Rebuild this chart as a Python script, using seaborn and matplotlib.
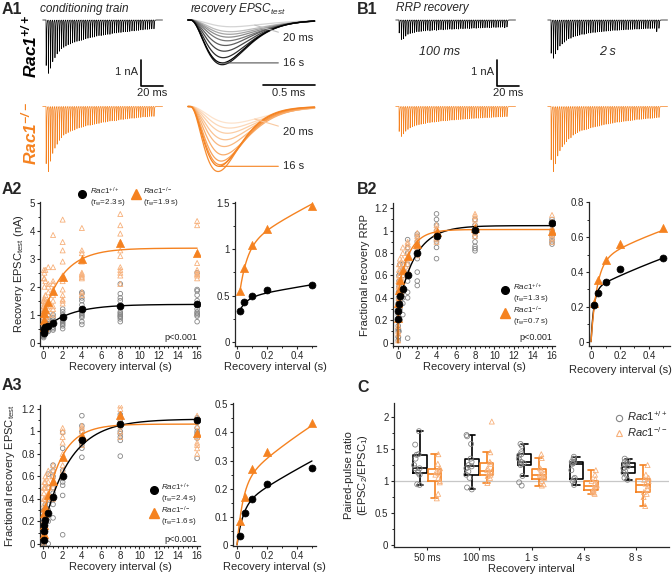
import numpy as np
import pandas as pd
import matplotlib
matplotlib.use("Agg")
import matplotlib.pyplot as plt
import seaborn as sns
from matplotlib.ticker import MultipleLocator, FuncFormatter

sns.set_style("ticks")
plt.rcParams["font.family"] = ["Liberation Sans", "DejaVu Sans"]
plt.rcParams["mathtext.fontset"] = "custom"
plt.rcParams["mathtext.rm"] = "Liberation Sans"
plt.rcParams["mathtext.it"] = "Liberation Sans:italic"
plt.rcParams["mathtext.bf"] = "Liberation Sans:bold:italic"
plt.rcParams["axes.linewidth"] = 0.9

W, H = 672, 575
BLACK = "#000000"
ORANGE = "#f58220"
PALE_OR = "#f7b07a"
GRAY = "#858585"

# ------------------------------------------------------------------
# data
# ------------------------------------------------------------------
intervals = [0.02, 0.05, 0.1, 0.2, 0.5, 1, 2, 4, 8, 16]
pp_labels = ["50 ms", "100 ms", "1 s", "4 s", "8 s"]

# A1 conditioning train, EPSC amplitude per pulse (nA)
train_wt = [1.75, 2.05, 1.85, 1.6, 1.45, 1.3, 1.2, 1.1, 1.05, 1.0, 0.95, 0.92, 0.88,
            0.85, 0.82, 0.8, 0.78, 0.75, 0.72, 0.7, 0.68, 0.66, 0.65, 0.62, 0.6,
            0.6, 0.58, 0.56, 0.55, 0.55, 0.52, 0.5, 0.5, 0.48, 0.48, 0.46, 0.45,
            0.45, 0.44, 0.42, 0.42, 0.4, 0.4, 0.38, 0.38, 0.36, 0.36, 0.35, 0.34, 0.34]
train_ko = [2.2, 2.5, 2.1, 1.8, 1.6, 1.45, 1.3, 1.2, 1.1, 1.05, 1.0, 0.95, 0.92,
            0.9, 0.85, 0.82, 0.8, 0.78, 0.75, 0.72, 0.72, 0.7, 0.68, 0.66, 0.65,
            0.62, 0.6, 0.6, 0.58, 0.56, 0.55, 0.55, 0.54, 0.52, 0.5, 0.5, 0.48,
            0.48, 0.46, 0.45, 0.45, 0.44, 0.42, 0.42, 0.4, 0.4, 0.4, 0.38, 0.38, 0.38]

# A1 recovery EPSC_test, 20 ms ... 16 s: amplitude (nA) and time to peak (ms)
epsc_wt = [0.26, 0.45, 0.55, 0.66, 0.8, 0.98, 1.2, 1.45, 1.72, 1.65]
tpk_wt = [0.40, 0.39, 0.38, 0.37, 0.36, 0.34, 0.33, 0.32, 0.31, 0.31]
epsc_ko = [0.64, 0.83, 1.03, 1.28, 1.54, 1.86, 2.1, 2.24, 2.5, 2.3]
tpk_ko = [0.40, 0.38, 0.36, 0.34, 0.33, 0.32, 0.30, 0.29, 0.27, 0.28]

# B1 RRP recovery trains (nA per pulse) after 100 ms and 2 s
rrp_wt_100 = [0.5, 0.75, 0.72, 0.62, 0.55, 0.52, 0.5, 0.48, 0.45, 0.45, 0.44, 0.42,
              0.42, 0.4, 0.42, 0.4, 0.38, 0.4, 0.38, 0.37, 0.38, 0.36, 0.36, 0.35,
              0.36, 0.35, 0.34, 0.35, 0.33, 0.34, 0.33, 0.32, 0.33, 0.32, 0.31, 0.32,
              0.3, 0.31, 0.3, 0.3, 0.29, 0.3, 0.29, 0.28, 0.29, 0.28, 0.28, 0.27, 0.3, 0.27]
rrp_wt_2s = [1.28, 1.47, 1.3, 1.15, 1.0, 0.92, 0.85, 0.78, 0.72, 0.7, 0.65, 0.62,
             0.6, 0.58, 0.55, 0.55, 0.52, 0.5, 0.5, 0.48, 0.48, 0.46, 0.45, 0.45,
             0.44, 0.43, 0.42, 0.42, 0.4, 0.4, 0.4, 0.39, 0.38, 0.38, 0.37, 0.37,
             0.36, 0.36, 0.35, 0.35, 0.35, 0.34, 0.34, 0.33, 0.33, 0.33, 0.32, 0.32, 0.45, 0.32]
rrp_ko_100 = [0.96, 1.15, 1.05, 0.95, 0.88, 0.82, 0.78, 0.75, 0.72, 0.7, 0.68, 0.66,
              0.65, 0.62, 0.62, 0.6, 0.6, 0.58, 0.58, 0.56, 0.55, 0.55, 0.54, 0.53,
              0.52, 0.52, 0.5, 0.5, 0.5, 0.49, 0.48, 0.48, 0.47, 0.46, 0.46, 0.45,
              0.45, 0.44, 0.44, 0.43, 0.43, 0.42, 0.42, 0.41, 0.41, 0.4, 0.4, 0.4, 0.39, 0.39]
rrp_ko_2s = [2.05, 2.5, 2.2, 1.9, 1.7, 1.55, 1.45, 1.35, 1.25, 1.2, 1.1, 1.05, 1.0,
             0.95, 0.92, 0.9, 0.88, 0.85, 0.82, 0.8, 0.78, 0.76, 0.75, 0.72, 0.7,
             0.68, 0.67, 0.65, 0.64, 0.62, 0.6, 0.6, 0.58, 0.57, 0.56, 0.55, 0.54,
             0.53, 0.52, 0.5, 0.5, 0.49, 0.48, 0.47, 0.46, 0.46, 0.45, 0.44, 0.43, 0.42]

# A2 recovery EPSC_test (nA)
a2_wt_mean = [0.33, 0.43, 0.49, 0.56, 0.61, 0.70, 0.92, 1.20, 1.31, 1.37]
a2_ko_mean = [0.55, 0.80, 1.05, 1.22, 1.47, 1.85, 2.33, 3.00, 3.55, 3.20]
a2_wt_pts = [
    [0.18, 0.22, 0.25, 0.27, 0.3, 0.31, 0.33, 0.36, 0.4, 0.45, 0.5],
    [0.25, 0.3, 0.35, 0.38, 0.4, 0.42, 0.45, 0.5, 0.55, 0.6],
    [0.3, 0.35, 0.42, 0.45, 0.48, 0.52, 0.58, 0.62, 0.7],
    [0.35, 0.42, 0.5, 0.5, 0.55, 0.6, 0.65, 0.75],
    [0.4, 0.45, 0.52, 0.58, 0.6, 0.68, 0.75, 0.85, 0.95],
    [0.45, 0.5, 0.55, 0.62, 0.68, 0.7, 0.8, 0.9, 1.0],
    [0.5, 0.6, 0.65, 0.7, 0.75, 0.8, 0.85, 0.9, 1.0, 1.1, 1.2],
    [0.65, 0.75, 0.9, 0.95, 1.0, 1.05, 1.1, 1.2, 1.35, 1.5, 1.6, 1.75, 1.8],
    [0.75, 0.85, 0.92, 0.95, 1.0, 1.05, 1.1, 1.25, 1.5, 1.6, 1.75, 2.1],
    [0.75, 0.95, 1.0, 1.05, 1.1, 1.2, 1.35, 1.4, 1.5, 1.7, 1.85, 1.9, 2.5],
]
a2_ko_pts = [
    [0.4, 0.55, 0.6, 0.7, 0.8, 0.9, 1.0, 1.1, 1.3, 1.5],
    [0.5, 0.7, 0.8, 0.9, 1.1, 1.2, 1.3, 1.5, 2.3, 2.6],
    [0.6, 0.8, 1.0, 1.1, 1.2, 1.4, 1.6, 2.0, 2.3, 2.5],
    [0.7, 0.9, 1.0, 1.1, 1.3, 1.5, 1.7, 2.2, 2.6],
    [0.8, 1.0, 1.2, 1.3, 1.5, 1.8, 2.0, 2.1, 2.7],
    [1.0, 1.2, 1.3, 1.5, 1.7, 1.9, 2.1, 2.2, 2.7, 3.85],
    [1.4, 1.5, 1.55, 1.7, 1.9, 2.2, 2.4, 2.9, 3.3, 3.6, 4.4],
    [1.7, 1.8, 2.3, 2.35, 2.4, 2.45, 2.5, 2.9, 3.2, 3.3, 4.1],
    [2.1, 2.4, 2.5, 2.6, 2.7, 3.1, 3.3, 3.6, 3.9, 4.2, 4.6],
    [2.3, 2.4, 2.45, 2.5, 2.6, 2.85, 3.2, 4.2, 4.35],
]

# B2 fractional recovery RRP
b2_wt_mean = [0.21, 0.28, 0.345, 0.415, 0.48, 0.60, 0.80, 0.955, 1.01, 1.065]
b2_ko_mean = [0.22, 0.355, 0.47, 0.56, 0.65, 0.77, 0.88, 0.99, 1.02, 1.0]
b2_wt_pts = [
    [0.02, 0.05, 0.1, 0.12, 0.15, 0.2, 0.25, 0.3, 0.35],
    [0.05, 0.12, 0.2, 0.28, 0.3, 0.35, 0.4, 0.45],
    [0.1, 0.2, 0.3, 0.35, 0.38, 0.45, 0.5, 0.55, 0.6],
    [0.2, 0.3, 0.38, 0.45, 0.5, 0.55, 0.62, 0.7],
    [0.25, 0.35, 0.4, 0.45, 0.5, 0.6, 0.65, 0.7],
    [0.04, 0.4, 0.45, 0.55, 0.6, 0.62, 0.7, 0.8, 0.85, 0.92],
    [0.51, 0.55, 0.63, 0.75, 0.8, 0.85, 0.9, 0.95, 0.97],
    [0.75, 0.85, 0.9, 0.92, 0.95, 1.0, 1.05, 1.1, 1.15],
    [0.82, 0.84, 0.86, 0.9, 0.95, 0.98, 1.0, 1.05, 1.1],
    [0.88, 0.9, 0.92, 0.95, 0.97, 1.0, 1.05, 1.08, 1.1],
]
b2_ko_pts = [
    [0.02, 0.08, 0.1, 0.15, 0.22, 0.28, 0.35],
    [0.2, 0.3, 0.35, 0.4, 0.45, 0.5, 0.55],
    [0.3, 0.4, 0.45, 0.5, 0.55, 0.6, 0.65, 0.7],
    [0.45, 0.5, 0.55, 0.6, 0.65, 0.7, 0.75],
    [0.55, 0.6, 0.65, 0.7, 0.75, 0.8, 0.85],
    [0.65, 0.7, 0.75, 0.8, 0.85, 0.88, 0.9],
    [0.78, 0.85, 0.88, 0.9, 0.93, 0.95, 0.98],
    [0.9, 0.93, 0.96, 0.98, 1.0, 1.02, 1.05],
    [0.95, 0.98, 1.0, 1.03, 1.06, 1.1, 1.13, 1.15],
    [0.9, 0.93, 0.96, 0.98, 1.0, 1.03, 1.08, 1.14],
]

# A3 fractional recovery EPSC_test
a3_wt_mean = [0.03, 0.115, 0.165, 0.215, 0.275, 0.42, 0.60, 0.92, 1.07, 1.10]
a3_ko_mean = [0.085, 0.17, 0.27, 0.33, 0.435, 0.56, 0.77, 0.96, 1.15, 0.99]
a3_wt_pts = [
    [0.0, 0.0, 0.01, 0.02, 0.05, 0.1, 0.15, 0.2],
    [0.0, 0.05, 0.1, 0.15, 0.2, 0.25, 0.3],
    [0.08, 0.15, 0.18, 0.2, 0.25, 0.3],
    [0.1, 0.15, 0.2, 0.22, 0.3, 0.35],
    [0.0, 0.2, 0.25, 0.3, 0.35, 0.4, 0.5, 0.62],
    [0.23, 0.35, 0.4, 0.45, 0.5, 0.6, 0.65, 0.7],
    [0.08, 0.43, 0.52, 0.55, 0.58, 0.6, 0.65, 0.85, 0.99],
    [0.77, 0.85, 0.88, 0.9, 0.92, 0.95, 1.0, 1.05, 1.14],
    [0.78, 0.92, 0.95, 0.98, 1.0, 1.05, 1.1, 1.15],
    [0.76, 0.94, 0.96, 0.98, 1.0, 1.03, 1.08, 1.12],
]
a3_ko_pts = [
    [0.0, 0.05, 0.1, 0.15, 0.2, 0.25, 0.3],
    [0.05, 0.15, 0.25, 0.35, 0.4, 0.45, 0.5],
    [0.1, 0.2, 0.3, 0.4, 0.5, 0.55],
    [0.15, 0.3, 0.4, 0.5, 0.55, 0.6],
    [0.3, 0.4, 0.45, 0.5, 0.55, 0.6, 0.65],
    [0.4, 0.5, 0.55, 0.6, 0.65, 0.7],
    [0.6, 0.65, 0.7, 0.8, 0.9, 0.95, 1.0, 1.03],
    [0.88, 0.92, 0.95, 1.0, 1.03, 1.05],
    [0.95, 1.0, 1.05, 1.1, 1.15, 1.2, 1.23],
    [0.8, 0.85, 0.88, 0.9, 0.95, 1.05, 1.1, 1.14],
]

# bi-exponential fit parameters: (plateau, A_fast, tau_fast, A_slow, tau_slow)
fit_a2_wt = (1.37, 0.20, 0.05, 0.90, 2.8)
fit_a2_ko = (3.38, 0.72, 0.05, 2.37, 2.2)
fit_b2_wt = (1.045, 0.30, 0.02, 0.745, 1.8)
fit_b2_ko = (1.01, 0.45, 0.04, 0.56, 1.2)
fit_a3_wt = (1.11, 0.14, 0.04, 0.97, 2.8)
fit_a3_ko = (1.065, 0.22, 0.04, 0.845, 1.8)

# C paired-pulse ratio per recovery interval
ppr_wt = [
    [0.94, 0.95, 1.1, 1.13, 1.15, 1.2, 1.2, 1.25, 1.35, 1.41, 1.42, 1.57, 1.78],
    [0.87, 0.9, 1.05, 1.1, 1.15, 1.2, 1.23, 1.25, 1.3, 1.35, 1.58, 1.7, 1.72],
    [0.93, 0.98, 1.08, 1.25, 1.27, 1.28, 1.3, 1.35, 1.4, 1.42, 1.45, 1.55, 1.58],
    [0.94, 1.0, 1.03, 1.05, 1.17, 1.27, 1.28, 1.3, 1.3, 1.35, 1.38],
    [1.02, 1.05, 1.1, 1.13, 1.15, 1.2, 1.23, 1.25, 1.28, 1.3, 1.32, 1.35],
]
ppr_ko = [
    [0.73, 0.8, 0.98, 1.0, 1.05, 1.1, 1.13, 1.15, 1.18, 1.2, 1.27, 1.42],
    [0.97, 1.05, 1.08, 1.1, 1.13, 1.15, 1.17, 1.2, 1.27, 1.3, 1.45, 1.93],
    [0.93, 0.95, 1.0, 1.05, 1.08, 1.1, 1.1, 1.12, 1.18, 1.2, 1.36, 1.42],
    [0.8, 0.82, 0.84, 0.86, 0.88, 0.92, 0.94, 0.96, 1.0, 1.03, 1.1, 1.17],
    [0.61, 0.75, 0.8, 0.83, 0.88, 0.92, 0.96, 1.0, 1.02, 1.05, 1.1, 1.25],
]

WT_LAB = r"$\mathit{Rac1}^{\mathit{+/+}}$"
KO_LAB = r"$\mathit{Rac1}^{\mathit{-/-}}$"

fig = plt.figure(figsize=(W / 100, H / 100), dpi=100)


def add_ax(x0, y0, x1, y1):
    return fig.add_axes([x0 / W, 1 - y1 / H, (x1 - x0) / W, (y1 - y0) / H])


def ftext(x, y, s, **kw):
    return fig.text(x / W, 1 - y / H, s, **kw)


def fmarker(x, y, **kw):
    fig.add_artist(plt.Line2D([x / W], [1 - y / H], transform=fig.transFigure, ls="none", **kw))


def biexp(t, p):
    yinf, af, tf, a_s, ts = p
    return yinf - af * np.exp(-t / tf) - a_s * np.exp(-t / ts)


def long_df(pts):
    rows = [(t, v) for t, vals in zip(intervals, pts) for v in vals]
    return pd.DataFrame(rows, columns=["t", "v"])


# ------------------------------------------------------------------
# traces (A1, B1)
# ------------------------------------------------------------------
def train_trace(amps, isi=2.0, dt=0.02, pre=3.0, post=8.0, tau_r=0.08, tau_d=0.3):
    t = np.arange(-pre, (len(amps) - 1) * isi + post, dt)
    s0 = np.linspace(0, 3, 3000)
    norm = (np.exp(-s0 / tau_d) - np.exp(-s0 / tau_r)).max()
    y = np.zeros_like(t)
    for i, a in enumerate(amps):
        s = t - i * isi
        m = s > 0
        y[m] -= a * (np.exp(-s[m] / tau_d) - np.exp(-s[m] / tau_r)) / norm
    return t, y


def epsc_trace(amp, tpk, n=2.5, t_end=1.2, dt=0.002):
    t = np.arange(-0.02, t_end, dt)
    s = np.clip(t, 0, None) / tpk
    return t, -amp * s ** n * np.exp(n * (1 - s))


def trace_axes(x0, y0, x1, y1, t0_px, ms_per_px, base_px, px_per_na=26.0):
    ax = add_ax(x0, y0, x1, y1)
    ax.set_xlim((x0 - t0_px) * ms_per_px, (x1 - t0_px) * ms_per_px)
    ax.set_ylim(-(y1 - base_px) / px_per_na, (base_px - y0) / px_per_na)
    ax.axis("off")
    return ax


def draw_line(ax, t, y, color, lw=0.5):
    sns.lineplot(x=t, y=y, ax=ax, color=color, lw=lw, estimator=None, sort=False,
                 errorbar=None, legend=False)


MS_TRAIN = 1 / 1.1
MS_EPSC = 0.5 / 52

ax = trace_axes(36, 10, 172, 100, 46, MS_TRAIN, 20)
draw_line(ax, *train_trace(train_wt), BLACK)
ax.plot([86.4, 86.4, 106.4], [-1.54, -2.54, -2.54], color=BLACK, lw=1.2, clip_on=False)
ax.text(84, -2.0, "1 nA", ha="right", va="center", fontsize=8)
ax.text(96.4, -2.82, "20 ms", ha="center", va="center", fontsize=8)
ax = trace_axes(36, 98, 172, 182, 46, MS_TRAIN, 106.5)
draw_line(ax, *train_trace(train_ko), ORANGE)

for amps, tpks, col_lo, col_hi, base, line_lo, line_hi in [
        (epsc_wt, tpk_wt, "#d4d4d4", "#000000", 20, "#c0c0c0", "#555555"),
        (epsc_ko, tpk_ko, "#fde3cc", ORANGE, 106.5, "#f9c9a0", ORANGE)]:
    ax = trace_axes(186, base - 10, 320, base + 76, 190, MS_EPSC, base)
    cols = sns.blend_palette([col_lo, col_hi], len(amps))
    for a, tp, c in zip(amps, tpks, cols):
        draw_line(ax, *epsc_trace(a, tp), c, lw=0.9)
    t20, y20 = epsc_trace(amps[0], tpks[0])
    k = np.searchsorted(t20, 0.62)
    ax.annotate("20 ms", xy=(t20[k], y20[k]), xytext=(0.894, y20[k] - 0.5),
                fontsize=8, va="center",
                arrowprops=dict(arrowstyle="-", color=line_lo, lw=0.8, shrinkA=1, shrinkB=0))
    ax.annotate("16 s", xy=(tpks[-1], -amps[-1]), xytext=(0.894, -amps[-1]),
                fontsize=8, va="center",
                arrowprops=dict(arrowstyle="-", color=line_hi, lw=0.8, shrinkA=1, shrinkB=0))
    if base == 20:
        ax.plot([0.702, 1.202], [-2.5, -2.5], color=BLACK, lw=1.2, clip_on=False)
        ax.text(0.952, -2.82, "0.5 ms", ha="center", va="center", fontsize=8)

ax = trace_axes(390, 10, 530, 100, 399, MS_TRAIN, 20)
draw_line(ax, *train_trace(rrp_wt_100), BLACK)
ax.plot([89.1, 89.1, 109.1], [-1.54, -2.54, -2.54], color=BLACK, lw=1.2, clip_on=False)
ax.text(86.5, -2.0, "1 nA", ha="right", va="center", fontsize=8)
ax.text(99.1, -2.82, "20 ms", ha="center", va="center", fontsize=8)
ax = trace_axes(390, 98, 530, 182, 399, MS_TRAIN, 106.5)
draw_line(ax, *train_trace(rrp_ko_100), ORANGE)
ax = trace_axes(540, 10, 672, 100, 551, MS_TRAIN, 20)
draw_line(ax, *train_trace(rrp_wt_2s), BLACK)
ax = trace_axes(540, 98, 672, 182, 551, MS_TRAIN, 106.5)
draw_line(ax, *train_trace(rrp_ko_2s), ORANGE)

ftext(40, 9, "conditioning train", fontsize=8.5, style="italic", va="center")
ftext(190, 9, r"recovery EPSC$_{\mathit{test}}$", fontsize=8.5, style="italic", va="center")
ftext(396, 8, "RRP recovery", fontsize=8.5, style="italic", va="center")
ftext(440, 52, "100 ms", fontsize=9, style="italic", ha="center", va="center")
ftext(607, 52, "2 s", fontsize=9, style="italic", ha="center", va="center")
ftext(29, 46, r"$\mathbf{Rac1}^{\mathbf{+/+}}$", fontsize=12.5, rotation=90,
      ha="center", va="center", color=BLACK)
ftext(29, 133, r"$\mathbf{Rac1}^{\mathbf{-/-}}$", fontsize=12.5, rotation=90,
      ha="center", va="center", color=ORANGE)

# ------------------------------------------------------------------
# recovery plots (A2, B2, A3)
# ------------------------------------------------------------------
fmt = FuncFormatter(lambda v, p: f"{v:g}")


def style_axes(ax, xmaj, xmin, ymaj, ymin):
    sns.despine(ax=ax)
    ax.xaxis.set_major_locator(MultipleLocator(xmaj))
    ax.xaxis.set_minor_locator(MultipleLocator(xmin))
    ax.yaxis.set_major_locator(MultipleLocator(ymaj))
    ax.yaxis.set_minor_locator(MultipleLocator(ymin))
    ax.xaxis.set_major_formatter(fmt)
    ax.yaxis.set_major_formatter(fmt)
    ax.tick_params(which="major", length=2.5, width=0.8, labelsize=7, pad=1)
    ax.tick_params(which="minor", length=1.6, width=0.7)


def recovery_main(ax, wt_pts, ko_pts, wt_mean, ko_mean, wt_fit, ko_fit):
    sns.scatterplot(data=long_df(wt_pts), x="t", y="v", ax=ax, marker="o", s=11,
                    color=GRAY, facecolor="none", edgecolor=GRAY, linewidth=0.6,
                    legend=False, zorder=2)
    sns.scatterplot(data=long_df(ko_pts), x="t", y="v", ax=ax, marker="^", s=13,
                    color=PALE_OR, facecolor="none", edgecolor=PALE_OR, linewidth=0.6,
                    legend=False, zorder=2)
    tt = np.concatenate([np.linspace(0, 0.5, 150), np.linspace(0.5, 16, 400)[1:]])
    sns.lineplot(x=tt, y=biexp(tt, wt_fit), ax=ax, color=BLACK, lw=1, estimator=None,
                 errorbar=None, zorder=3)
    sns.lineplot(x=tt, y=biexp(tt, ko_fit), ax=ax, color=ORANGE, lw=1, estimator=None,
                 errorbar=None, zorder=3)
    sns.scatterplot(x=intervals, y=ko_mean, ax=ax, marker="^", s=34, color=ORANGE,
                    edgecolor=ORANGE, linewidth=0.5, zorder=4, legend=False)
    sns.scatterplot(x=intervals, y=wt_mean, ax=ax, marker="o", s=25, color=BLACK,
                    edgecolor=BLACK, linewidth=0.5, zorder=5, legend=False)
    ax.set_xlabel("Recovery interval (s)", fontsize=8, labelpad=1)


def recovery_inset(ax, wt_mean, ko_mean, wt_fit, ko_fit, t_start):
    tt = np.linspace(t_start, 0.5, 300)
    sns.lineplot(x=tt, y=np.clip(biexp(tt, wt_fit), 0, None), ax=ax, color=BLACK, lw=1,
                 estimator=None, errorbar=None, zorder=3)
    sns.lineplot(x=tt, y=np.clip(biexp(tt, ko_fit), 0, None), ax=ax, color=ORANGE, lw=1,
                 estimator=None, errorbar=None, zorder=3)
    sns.scatterplot(x=intervals[:5], y=ko_mean[:5], ax=ax, marker="^", s=34,
                    color=ORANGE, edgecolor=ORANGE, linewidth=0.5, zorder=4, legend=False)
    sns.scatterplot(x=intervals[:5], y=wt_mean[:5], ax=ax, marker="o", s=25,
                    color=BLACK, edgecolor=BLACK, linewidth=0.5, zorder=5, legend=False)
    ax.set_xlabel("Recovery interval (s)", fontsize=8, labelpad=1)
    ax.set_ylabel("")


# A2
ax = add_ax(40, 202, 200, 346)
recovery_main(ax, a2_wt_pts, a2_ko_pts, a2_wt_mean, a2_ko_mean, fit_a2_wt, fit_a2_ko)
ax.set_xlim(-0.36, 16.3)
ax.set_ylim(-0.12, 5.03)
style_axes(ax, 2, 0.5, 1, 0.5)
ax.set_ylabel(r"Recovery EPSC$_{\mathrm{test}}$ (nA)", fontsize=8, labelpad=3)
ax = add_ax(235, 202, 316, 346)
recovery_inset(ax, a2_wt_mean, a2_ko_mean, fit_a2_wt, fit_a2_ko, 0.02)
ax.set_xlim(-0.013, 0.527)
ax.set_ylim(-0.047, 1.514)
style_axes(ax, 0.2, 0.1, 0.5, 0.25)

# B2
ax = add_ax(393, 203, 555, 346)
recovery_main(ax, b2_wt_pts, b2_ko_pts, b2_wt_mean, b2_ko_mean, fit_b2_wt, fit_b2_ko)
ax.set_xlim(-0.52, 16.31)
ax.set_ylim(-0.03, 1.247)
style_axes(ax, 2, 0.5, 0.2, 0.1)
ax.set_ylabel("Fractional recovery RRP", fontsize=8, labelpad=3)
ax = add_ax(589, 202, 670, 346)
recovery_inset(ax, b2_wt_mean, b2_ko_mean, fit_b2_wt, fit_b2_ko, 0.0)
ax.set_xlim(-0.014, 0.545)
ax.set_ylim(-0.025, 0.802)
style_axes(ax, 0.2, 0.1, 0.2, 0.1)
ax.xaxis.label.set_horizontalalignment("right")
ax.xaxis.set_label_coords(1.02, -0.13)

# A3
ax = add_ax(40, 405, 200, 546)
recovery_main(ax, a3_wt_pts, a3_ko_pts, a3_wt_mean, a3_ko_mean, fit_a3_wt, fit_a3_ko)
ax.set_xlim(-0.36, 16.3)
ax.set_ylim(-0.02, 1.235)
style_axes(ax, 2, 0.5, 0.2, 0.1)
ax.set_ylabel(r"Fractional recovery EPSC$_{\mathrm{test}}$", fontsize=8, labelpad=3)
ax = add_ax(233, 403, 316, 546)
recovery_inset(ax, a3_wt_mean, a3_ko_mean, fit_a3_wt, fit_a3_ko, 0.0)
ax.set_xlim(-0.027, 0.527)
ax.set_ylim(-0.004, 0.505)
style_axes(ax, 0.2, 0.1, 0.1, 0.05)

# legends and p values
for (mx, my, tx, lab, tau) in [(82, 194, 90, WT_LAB, "2.3"), (136, 194, 143, KO_LAB, "1.9"),
                               (505, 290, 513, WT_LAB, "1.3"), (505, 313, 513, KO_LAB, "0.7"),
                               (154, 490, 161, WT_LAB, "2.4"), (154, 513, 161, KO_LAB, "1.6")]:
    is_wt = lab == WT_LAB
    fmarker(mx, my, marker="o" if is_wt else "^", ms=5.5 if is_wt else 6.5,
            color=BLACK if is_wt else ORANGE)
    ftext(tx, my - 2.5, lab, fontsize=5.8, va="center")
    ftext(tx, my + 8.5, r"($\tau_{\mathrm{w}}$=" + tau + " s)", fontsize=5.8, va="center")
for (x, y) in [(197, 338), (552, 338), (197, 539)]:
    ftext(x, y, "p<0.001", fontsize=6.5, ha="right", va="center")

# ------------------------------------------------------------------
# C paired-pulse ratio
# ------------------------------------------------------------------
rows = []
for geno, groups in [("wt", ppr_wt), ("ko", ppr_ko)]:
    for lab, vals in zip(pp_labels, groups):
        rows += [(geno, lab, v) for v in vals]
ppr_df = pd.DataFrame(rows, columns=["geno", "interval", "ppr"])
pal = {"wt": BLACK, "ko": ORANGE}

ax = add_ax(394, 403, 669, 547)
ax.axhline(1, color="0.78", lw=0.9, zorder=0)
sns.boxplot(data=ppr_df, x="interval", y="ppr", hue="geno", order=pp_labels,
            hue_order=["wt", "ko"], palette=pal, fill=False, width=0.56, gap=0.08,
            linewidth=1.2, showfliers=False, whis=1.5, legend=False, ax=ax)
np.random.seed(4)
for geno, mk, ec in [("wt", "o", GRAY), ("ko", "^", PALE_OR)]:
    n0 = len(ax.collections)
    sns.stripplot(data=ppr_df[ppr_df.geno == geno], x="interval", y="ppr", hue="geno",
                  order=pp_labels, hue_order=["wt", "ko"], palette=pal, dodge=True,
                  jitter=0.11, marker=mk, size=3.6, linewidth=0.6, legend=False, ax=ax)
    for coll in ax.collections[n0:]:
        coll.set_facecolor("none")
        coll.set_edgecolor(ec)
        coll.set_linewidth(0.6)
        coll.set_zorder(4)
ax.set_xlim(-0.64, 4.64)
ax.set_ylim(-0.03, 2.22)
sns.despine(ax=ax)
ax.yaxis.set_major_locator(MultipleLocator(0.5))
ax.yaxis.set_minor_locator(MultipleLocator(0.25))
ax.yaxis.set_major_formatter(fmt)
ax.tick_params(which="major", length=2.5, width=0.8, labelsize=7, pad=1.5)
ax.tick_params(which="minor", length=1.6, width=0.7)
ax.set_xlabel("Recovery interval", fontsize=8, labelpad=1)
ax.set_ylabel("Paired-pulse ratio\n(EPSC$_2$/EPSC$_1$)", fontsize=8, labelpad=4)

fmarker(619, 418, marker="o", ms=4.5, mfc="none", mec=GRAY, mew=0.8)
fmarker(619, 433, marker="^", ms=5, mfc="none", mec=PALE_OR, mew=0.8)
ftext(627, 416, WT_LAB, fontsize=8, va="center")
ftext(627, 432, KO_LAB, fontsize=8, va="center")

# panel letters
for lab, x, y in [("A1", 2, 10), ("B1", 357, 10), ("A2", 2, 190), ("B2", 357, 190),
                  ("A3", 2, 386), ("C", 357, 387)]:
    ftext(x, y, lab, fontsize=11.5, fontweight="bold", va="center")

fig.savefig("out.png", dpi=100)
